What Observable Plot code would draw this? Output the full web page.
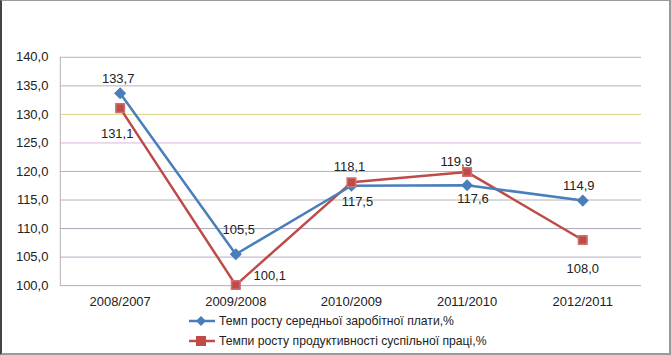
<!DOCTYPE html>
<html>
<head>
<meta charset="utf-8">
<script src="https://cdn.jsdelivr.net/npm/d3@7"></script>
<script src="https://cdn.jsdelivr.net/npm/@observablehq/plot@0.6"></script>
<style>
  body { margin: 0; background: #fff; }
  #frame {
    position: relative; width: 671px; height: 355px; box-sizing: border-box;
    border-top: 1px solid #9a9a9a; border-right: 2px solid #9a9a9a;
    border-bottom: 2px solid #9a9a9a; border-left: 2px solid #444;
    background: #fff; overflow: hidden;
    font-family: "Liberation Sans", Arial, sans-serif;
  }
  #chart { position: absolute; left: -2px; top: -1px; }
  #legend { position: absolute; left: 186px; top: 310px; font-size: 12.2px; color: #222; }
  .row { display: flex; align-items: center; height: 20px; }
  .row svg { margin-right: 3px; }
</style>
</head>
<body>
<div id="frame">
  <div id="chart"></div>
  <div id="legend"></div>
</div>
<script>
const categories = ["2008/2007", "2009/2008", "2010/2009", "2011/2010", "2012/2011"];
const wageGrowth = [133.7, 105.5, 117.5, 117.6, 114.9];
const productivityGrowth = [131.1, 100.1, 118.1, 119.9, 108.0];
const yTicks = [100, 105, 110, 115, 120, 125, 130, 135, 140];
const seriesNames = [
  "Темп росту середньої заробітної плати,%",
  "Темпи росту продуктивності суспільної праці,%"
];

const blue = "#4a7ebb", red = "#be4b48";
const fmt = v => v.toFixed(1).replace(".", ",");

const wage = categories.map((c, i) => ({cat: c, value: wageGrowth[i]}));
const prod = categories.map((c, i) => ({cat: c, value: productivityGrowth[i]}));

// label offsets (dx, dy) per point, styling only
const wageOff = [[-2, -14], [3, -24], [6, 16], [6, 14], [-4, -15]];
const prodOff = [[-3, 26], [34, -9], [-2, -16], [-11, -10], [0, 29]];

const gridColor = v => ({130: "#d6d68a", 125: "#d3b8d8", 110: "#b0a8bc", 105: "#b8aac8", 100: "#b4a8c0"}[v] || "#b4b4b4");

const labelMarks = [];
wage.forEach((d, i) => labelMarks.push(Plot.text([d], {x: "cat", y: "value", text: d => fmt(d.value), dx: wageOff[i][0], dy: wageOff[i][1], fill: "#222", fontSize: 13})));
prod.forEach((d, i) => labelMarks.push(Plot.text([d], {x: "cat", y: "value", text: d => fmt(d.value), dx: prodOff[i][0], dy: prodOff[i][1], fill: "#222", fontSize: 13})));

const chart = Plot.plot({
  width: 671, height: 311,
  marginTop: 57, marginBottom: 25, marginLeft: 60, marginRight: 28,
  style: {fontFamily: "'Liberation Sans', Arial, sans-serif", fontSize: "13px", color: "#222", background: "transparent"},
  x: {type: "point", domain: categories, padding: 0.5, label: null},
  y: {domain: [100, 140], label: null},
  marks: [
    Plot.ruleY(yTicks, {stroke: gridColor, strokeWidth: 1}),
    Plot.axisY({ticks: yTicks, tickSize: 0, tickPadding: 12, tickFormat: fmt, fontSize: 13}),
    Plot.axisX({tickSize: 0, tickPadding: 11, fontSize: 13}),
    Plot.line(prod, {x: "cat", y: "value", stroke: red, strokeWidth: 2.5}),
    Plot.line(wage, {x: "cat", y: "value", stroke: blue, strokeWidth: 2.5}),
    Plot.dot(wage, {x: "cat", y: "value", symbol: "diamond2", fill: blue, stroke: blue, r: 4.5}),
    Plot.dot(prod, {x: "cat", y: "value", symbol: "square2", fill: red, stroke: "#d07070", r: 5.5}),
    ...labelMarks
  ]
});
// left axis line
const svg = d3.select(chart);
svg.append("line").attr("x1", 60.5).attr("x2", 60.5).attr("y1", 57).attr("y2", 286).attr("stroke", "#b4b4b4");
document.getElementById("chart").appendChild(chart);

const legend = document.getElementById("legend");
[[blue, "diamond"], [red, "square"]].forEach(([col, shape], i) => {
  const row = document.createElement("div");
  row.className = "row";
  const mk = shape === "diamond"
    ? `<polygon points="13,2 18,7 13,12 8,7" fill="${col}"/>`
    : `<rect x="8" y="2" width="10" height="10" fill="${col}"/>`;
  row.innerHTML = `<svg width="28" height="14"><line x1="1" x2="27" y1="7" y2="7" stroke="${col}" stroke-width="2.5"/>${mk}</svg><span>${seriesNames[i]}</span>`;
  legend.appendChild(row);
});
</script>
</body>
</html>
